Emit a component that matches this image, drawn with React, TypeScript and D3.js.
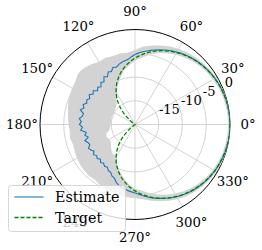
import { useEffect, useRef } from 'react'
import * as d3 from 'd3'

// angle ticks (deg) and radial ticks (dB)
const ANGLE_TICKS = [0, 30, 60, 90, 120, 150, 180, 210, 240, 270, 300, 330]
const RADIAL_TICKS = [-15, -10, -5, 0]
const R_MIN = -20
const R_MAX = 0

// target pattern, every 5 deg from 0
const TARGET_DEG = d3.range(0, 360, 5)
const TARGET = [
  0, -0.02, -0.07, -0.15, -0.27, -0.42, -0.6, -0.82, -1.08, -1.38, -1.71, -2.08,
  -2.5, -2.96, -3.47, -4.02, -4.63, -5.29, -6.02, -6.81, -7.68, -8.62, -9.66, -10.79,
  -12.04, -13.42, -14.96, -16.69, -18.64, -20, -20, -20, -20, -20, -20, -20,
  -20, -20, -20, -20, -20, -20, -20, -20, -18.64, -16.69, -14.96, -13.42,
  -12.04, -10.79, -9.66, -8.62, -7.68, -6.81, -6.02, -5.29, -4.63, -4.02, -3.47, -2.96,
  -2.5, -2.08, -1.71, -1.38, -1.08, -0.82, -0.6, -0.42, -0.27, -0.15, -0.07, -0.02,
]

// estimate, every 3 deg from 0
const EST_DEG = d3.range(0, 360, 3)
const ESTIMATE = [
  -0.05, 0.0, -0.02, -0.05, -0.08, -0.12, -0.2, -0.26, -0.36, -0.45,
  -0.56, -0.68, -0.84, -0.98, -1.15, -1.32, -1.5, -1.7, -1.92, -2.15,
  -2.4, -2.65, -2.9, -3.2, -3.45, -3.75, -4.05, -4.35, -4.6, -4.9,
  -5.25, -5.7, -6.2, -6.4, -6.6, -6.9, -7.3, -7.1, -7.8, -7.6,
  -8.4, -8.0, -8.9, -8.6, -9.3, -8.9, -9.4, -8.7, -9.1, -8.5,
  -9.0, -8.6, -8.9, -8.3, -8.7, -8.1, -8.9, -8.8, -8.2, -8.7,
  -8.3, -8.9, -8.5, -9.6, -9.2, -9.8, -8.9, -9.4, -9.6, -9.0,
  -9.3, -9.7, -9.2, -9.6, -9.3, -9.7, -9.2, -9.5, -9.1, -9.3,
  -8.8, -8.7, -8.1, -7.9, -7.2, -6.8, -6.4, -6.3, -6.0, -5.8,
  -5.6, -5.3, -4.95, -4.6, -4.25, -3.95, -3.65, -3.35, -3.05, -2.75,
  -2.45, -2.2, -1.95, -1.72, -1.5, -1.3, -1.12, -0.96, -0.82, -0.68,
  -0.55, -0.45, -0.35, -0.25, -0.18, -0.12, -0.07, -0.04, -0.02, -0.03,
]

// uncertainty band, every 6 deg from 0
const BAND_DEG = d3.range(0, 360, 6)
const BAND_HI = [
  0.3, 0.3, 0.2, 0.1, -0.1, -0.25, -0.45, -0.7, -0.95, -1.25,
  -1.6, -2.0, -2.5, -3.0, -3.5, -4.3, -4.8, -4.7, -4.9, -4.6,
  -4.8, -4.3, -4.0, -3.9, -4.5, -4.7, -5.0, -5.2, -5.6, -5.8,
  -6.0, -6.2, -6.0, -6.3, -6.1, -5.9, -5.7, -5.6, -5.5, -5.6,
  -5.3, -5.1, -4.9, -4.7, -4.6, -4.5, -4.2, -3.6, -3.0, -2.4,
  -1.9, -1.4, -1.0, -0.7, -0.4, -0.2, 0.0, 0.1, 0.2, 0.3,
]
const BAND_LO = [
  -0.4, -0.4, -0.5, -0.6, -0.8, -1.0, -1.3, -1.6, -2.0, -2.5,
  -3.0, -3.6, -4.2, -5.0, -5.8, -6.6, -7.5, -8.5, -9.8, -11.0,
  -12.5, -13.5, -14.2, -14.6, -14.8, -14.9, -15.0, -14.8, -15.0, -14.9,
  -15.0, -14.7, -14.5, -13.6, -13.5, -13.8, -13.7, -13.2, -12.6, -12.2,
  -12.3, -10.8, -9.6, -8.5, -7.4, -6.5, -6.0, -5.2, -4.5, -3.8,
  -3.2, -2.6, -2.1, -1.7, -1.3, -1.0, -0.8, -0.6, -0.5, -0.4,
]

const SERIES = [
  { name: 'Estimate', color: '#1f77b4', dash: null as string | null },
  { name: 'Target', color: '#008000', dash: '4,2' },
]

const W = 262
const H = 250
const CX = 135
const CY = 124.5
const R = 95
const FONT = "'DejaVu Serif', serif"

export default function App() {
  const svgRef = useRef<SVGSVGElement>(null)

  useEffect(() => {
    if (!svgRef.current) return
    const svg = d3.select(svgRef.current)
    svg.selectAll('*').remove()

    const r = d3.scaleLinear().domain([R_MIN, R_MAX]).range([0, R])
    const toRad = (deg: number) => Math.PI / 2 - (deg * Math.PI) / 180

    svg.append('defs').append('clipPath').attr('id', 'polar-clip')
      .append('circle').attr('cx', CX).attr('cy', CY).attr('r', R)

    const g = svg.append('g').attr('transform', `translate(${CX},${CY})`)
    const plot = svg.append('g').attr('clip-path', 'url(#polar-clip)')
      .append('g').attr('transform', `translate(${CX},${CY})`)

    // uncertainty band
    const ring = (degs: number[]) => d3.lineRadial<number>()
      .angle((_, i) => toRad(degs[i]))
      .radius(d => r(Math.max(R_MIN, d)))
      .curve(d3.curveLinearClosed)
    const bandPath = (ring(BAND_DEG)(BAND_HI) ?? '') + (ring(BAND_DEG)(BAND_LO) ?? '')
    plot.append('path').attr('d', bandPath)
      .attr('fill', '#d3d3d3').attr('fill-rule', 'evenodd').attr('stroke', 'none')

    // grid
    const grid = g.append('g')
    RADIAL_TICKS.filter(t => t < R_MAX).forEach(t => {
      grid.append('circle').attr('r', r(t)).attr('fill', 'none')
        .attr('stroke', '#c8c8c8').attr('stroke-width', 0.8)
    })
    ANGLE_TICKS.forEach(a => {
      const th = (a * Math.PI) / 180
      grid.append('line').attr('x1', 0).attr('y1', 0)
        .attr('x2', R * Math.cos(th)).attr('y2', -R * Math.sin(th))
        .attr('stroke', '#c8c8c8').attr('stroke-width', 0.8)
    })

    // lines
    const line = (degs: number[]) => d3.lineRadial<number>()
      .angle((_, i) => toRad(degs[i]))
      .radius(d => r(Math.max(R_MIN, d)))
    plot.append('path').attr('d', line(EST_DEG).curve(d3.curveLinearClosed)(ESTIMATE))
      .attr('fill', 'none').attr('stroke', SERIES[0].color).attr('stroke-width', 1.1)
    plot.append('path').attr('d', line(TARGET_DEG).curve(d3.curveCatmullRomClosed.alpha(0.5))(TARGET))
      .attr('fill', 'none').attr('stroke', SERIES[1].color).attr('stroke-width', 1.3)
      .attr('stroke-dasharray', SERIES[1].dash)

    // outer spine
    g.append('circle').attr('r', R).attr('fill', 'none').attr('stroke', '#000').attr('stroke-width', 1)

    // angle labels
    ANGLE_TICKS.forEach(a => {
      const th = (a * Math.PI) / 180
      g.append('text').attr('x', 113 * Math.cos(th)).attr('y', -113 * Math.sin(th))
        .attr('text-anchor', 'middle').attr('dominant-baseline', 'central')
        .attr('font-family', FONT).attr('font-size', '13.3px').attr('fill', '#000')
        .text(`${a}°`)
    })

    // radial labels at 22.5 deg
    const lab = (22.5 * Math.PI) / 180
    RADIAL_TICKS.forEach(t => {
      g.append('text')
        .attr('x', r(t) * Math.cos(lab) + 2).attr('y', -r(t) * Math.sin(lab) - 1.5)
        .attr('text-anchor', 'start')
        .attr('font-family', FONT).attr('font-size', '13px').attr('fill', '#000')
        .text(`${t}`)
    })

    // legend
    const lg = svg.append('g').attr('transform', 'translate(8.5,185.5)')
    lg.append('rect').attr('width', 117).attr('height', 46).attr('rx', 3)
      .attr('fill', '#fff').attr('fill-opacity', 0.8).attr('stroke', '#cccccc').attr('stroke-width', 0.8)
    SERIES.forEach((s, i) => {
      const y = 11.5 + i * 20.5
      lg.append('line').attr('x1', 6).attr('x2', 35).attr('y1', y).attr('y2', y)
        .attr('stroke', s.color).attr('stroke-width', i === 0 ? 1.1 : 1.3)
        .attr('stroke-dasharray', s.dash)
      lg.append('text').attr('x', 46.5).attr('y', y + 5)
        .attr('font-family', FONT).attr('font-size', '14.3px').attr('fill', '#000')
        .text(s.name)
    })
  }, [])

  return (
    <svg ref={svgRef} width={W} height={H}
      style={{ position: 'absolute', left: 0, top: 0, background: '#fff' }} />
  )
}
